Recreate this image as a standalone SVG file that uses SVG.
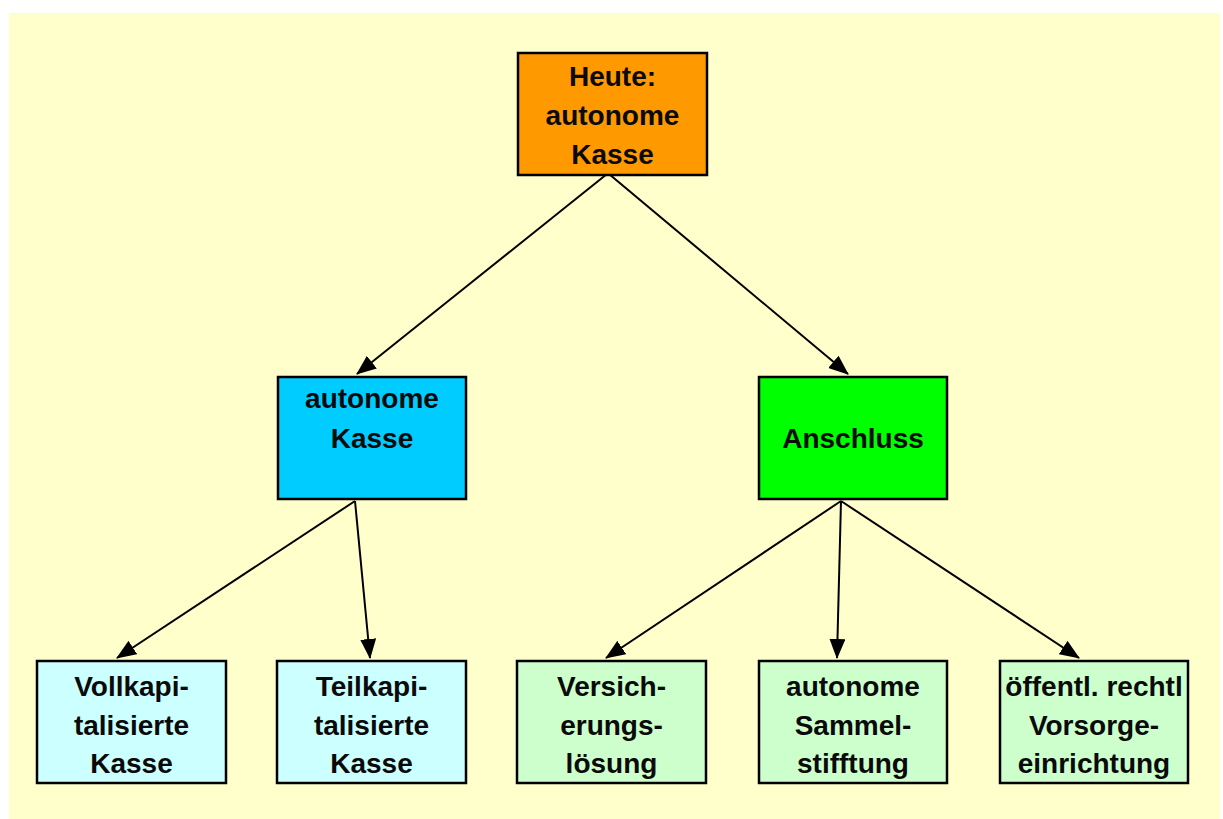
<svg xmlns="http://www.w3.org/2000/svg" width="1223" height="819" viewBox="0 0 1223 819">
<defs>
<style>
.bx{stroke:#000;stroke-width:2.5}
.t{font-family:"Liberation Sans",Arial,sans-serif;font-weight:bold;font-size:28px;fill:#0a0a0a;text-anchor:middle}
.c{stroke:#000;stroke-width:2;fill:none;marker-end:url(#ah)}
</style>
<marker id="ah" markerUnits="userSpaceOnUse" markerWidth="20" markerHeight="16" refX="19" refY="8" orient="auto" viewBox="0 0 20 16">
<path d="M0,0 L20,8 L0,16 z" fill="#000"/>
</marker>
</defs>
<rect x="0" y="0" width="1223" height="819" fill="#fff"/>
<rect x="9" y="13" width="1211" height="806" fill="#ffffcc"/>
<g id="connectors">
<line class="c" x1="607" y1="174" x2="357" y2="374"/>
<line class="c" x1="609" y1="174" x2="848" y2="374"/>
<line class="c" x1="355" y1="501" x2="117" y2="658"/>
<line class="c" x1="355" y1="501" x2="370" y2="658"/>
<line class="c" x1="841" y1="501" x2="606" y2="658"/>
<line class="c" x1="841" y1="501" x2="837" y2="658"/>
<line class="c" x1="841" y1="501" x2="1079" y2="658"/>
</g>
<g id="n-heute">
<rect class="bx" x="518" y="53" width="189" height="122" fill="#ff9900"/>
<text class="t" x="612.5" y="86">Heute:</text>
<text class="t" x="612.5" y="125">autonome</text>
<text class="t" x="612.5" y="164">Kasse</text>
</g>
<g id="n-autonom">
<rect class="bx" x="278" y="377" width="188" height="122" fill="#00ccff"/>
<text class="t" x="372" y="408">autonome</text>
<text class="t" x="372" y="448">Kasse</text>
</g>
<g id="n-anschluss">
<rect class="bx" x="759" y="377" width="188" height="122" fill="#00ff00"/>
<text class="t" x="853" y="448">Anschluss</text>
</g>
<g id="n-voll">
<rect class="bx" x="37" y="661" width="189" height="122" fill="#ccffff"/>
<text class="t" x="131.5" y="696">Vollkapi-</text>
<text class="t" x="131.5" y="735">talisierte</text>
<text class="t" x="131.5" y="773">Kasse</text>
</g>
<g id="n-teil">
<rect class="bx" x="277" y="661" width="189" height="122" fill="#ccffff"/>
<text class="t" x="371.5" y="696">Teilkapi-</text>
<text class="t" x="371.5" y="735">talisierte</text>
<text class="t" x="371.5" y="773">Kasse</text>
</g>
<g id="n-versich">
<rect class="bx" x="517" y="661" width="189" height="122" fill="#ccffcc"/>
<text class="t" x="611.5" y="696">Versich-</text>
<text class="t" x="611.5" y="735">erungs-</text>
<text class="t" x="611.5" y="773">lösung</text>
</g>
<g id="n-sammel">
<rect class="bx" x="759" y="661" width="188" height="122" fill="#ccffcc"/>
<text class="t" x="853" y="696">autonome</text>
<text class="t" x="853" y="735">Sammel-</text>
<text class="t" x="853" y="773">stifftung</text>
</g>
<g id="n-oeffentl">
<rect class="bx" x="1000" y="661" width="188" height="122" fill="#ccffcc"/>
<text class="t" x="1094" y="696">öffentl. rechtl</text>
<text class="t" x="1094" y="735">Vorsorge-</text>
<text class="t" x="1094" y="773">einrichtung</text>
</g>
</svg>
